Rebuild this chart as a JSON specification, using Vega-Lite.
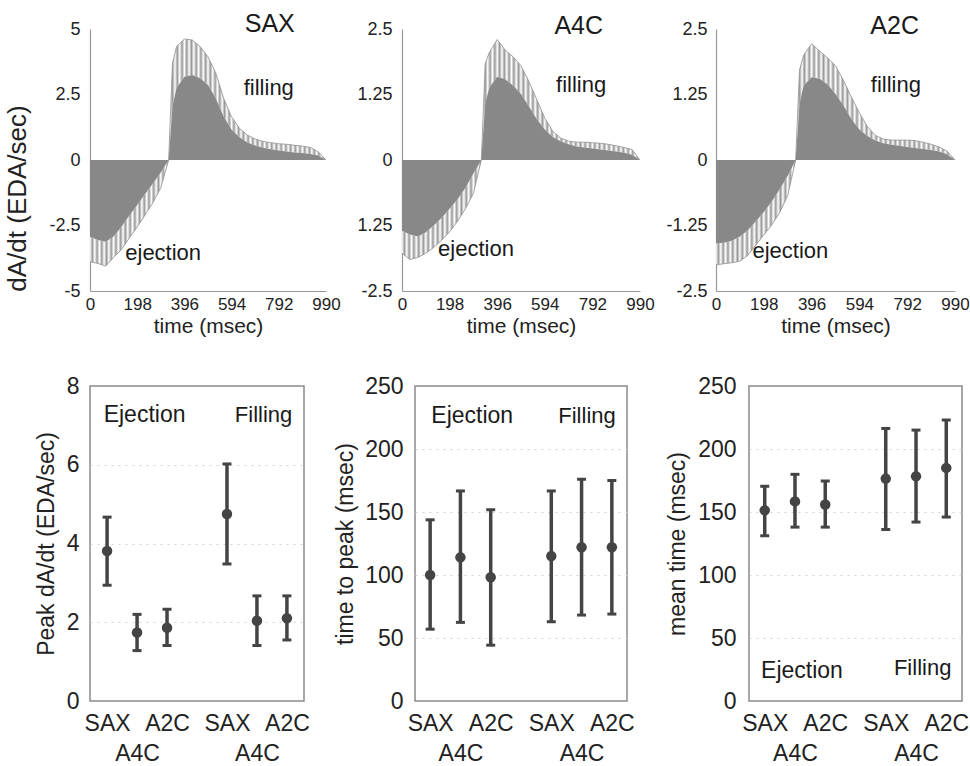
{
  "$schema": "https://vega.github.io/schema/vega-lite/v6.json",
  "padding": {"left": 4, "top": 12, "right": 0, "bottom": 0},
  "background": "white",
  "config": {
    "font": "Liberation Sans",
    "view": {"stroke": null},
    "axis": {"ticks": false, "grid": false, "domainColor": "#999", "domainWidth": 1.2, "labelColor": "#222", "titleColor": "#222", "titleFontWeight": "normal", "labelFlush": false, "labelOverlap": false, "labelBound": false}
  },
  "datasets": {
    "curves": [
      {"view":"SAX","t":0,"mean":-2.93,"outer":-3.88},
      {"view":"SAX","t":33,"mean":-3.05,"outer":-3.95},
      {"view":"SAX","t":66,"mean":-3.12,"outer":-4.05},
      {"view":"SAX","t":99,"mean":-2.92,"outer":-3.72},
      {"view":"SAX","t":132,"mean":-2.55,"outer":-3.42},
      {"view":"SAX","t":165,"mean":-2.12,"outer":-2.98},
      {"view":"SAX","t":198,"mean":-1.72,"outer":-2.56},
      {"view":"SAX","t":231,"mean":-1.3,"outer":-2.1},
      {"view":"SAX","t":264,"mean":-0.9,"outer":-1.63},
      {"view":"SAX","t":297,"mean":-0.48,"outer":-1.06},
      {"view":"SAX","t":330,"mean":0,"outer":0},
      {"view":"SAX","t":346,"mean":2.04,"outer":3.69},
      {"view":"SAX","t":363,"mean":2.75,"outer":4.33},
      {"view":"SAX","t":396,"mean":3.18,"outer":4.62},
      {"view":"SAX","t":429,"mean":3.24,"outer":4.58},
      {"view":"SAX","t":462,"mean":3.12,"outer":4.33},
      {"view":"SAX","t":495,"mean":2.86,"outer":3.94},
      {"view":"SAX","t":528,"mean":2.35,"outer":3.31},
      {"view":"SAX","t":561,"mean":1.65,"outer":2.35},
      {"view":"SAX","t":594,"mean":1.15,"outer":1.65},
      {"view":"SAX","t":627,"mean":0.87,"outer":1.21},
      {"view":"SAX","t":660,"mean":0.67,"outer":0.95},
      {"view":"SAX","t":693,"mean":0.55,"outer":0.8},
      {"view":"SAX","t":726,"mean":0.47,"outer":0.71},
      {"view":"SAX","t":759,"mean":0.41,"outer":0.66},
      {"view":"SAX","t":792,"mean":0.36,"outer":0.62},
      {"view":"SAX","t":825,"mean":0.32,"outer":0.6},
      {"view":"SAX","t":858,"mean":0.29,"outer":0.56},
      {"view":"SAX","t":891,"mean":0.27,"outer":0.53},
      {"view":"SAX","t":924,"mean":0.23,"outer":0.48},
      {"view":"SAX","t":957,"mean":0.17,"outer":0.32},
      {"view":"SAX","t":990,"mean":0,"outer":0},
      {"view":"A4C","t":0,"mean":-1.35,"outer":-1.78},
      {"view":"A4C","t":33,"mean":-1.42,"outer":-1.9},
      {"view":"A4C","t":66,"mean":-1.46,"outer":-1.86},
      {"view":"A4C","t":99,"mean":-1.38,"outer":-1.78},
      {"view":"A4C","t":132,"mean":-1.25,"outer":-1.67},
      {"view":"A4C","t":165,"mean":-1.1,"outer":-1.53},
      {"view":"A4C","t":198,"mean":-0.93,"outer":-1.37},
      {"view":"A4C","t":231,"mean":-0.75,"outer":-1.17},
      {"view":"A4C","t":264,"mean":-0.53,"outer":-0.93},
      {"view":"A4C","t":297,"mean":-0.26,"outer":-0.64},
      {"view":"A4C","t":330,"mean":0,"outer":0},
      {"view":"A4C","t":346,"mean":1.08,"outer":1.84},
      {"view":"A4C","t":363,"mean":1.38,"outer":2.05},
      {"view":"A4C","t":396,"mean":1.59,"outer":2.3},
      {"view":"A4C","t":429,"mean":1.54,"outer":2.1},
      {"view":"A4C","t":462,"mean":1.42,"outer":1.97},
      {"view":"A4C","t":495,"mean":1.26,"outer":1.8},
      {"view":"A4C","t":528,"mean":1.02,"outer":1.5},
      {"view":"A4C","t":561,"mean":0.78,"outer":1.15},
      {"view":"A4C","t":594,"mean":0.58,"outer":0.8},
      {"view":"A4C","t":627,"mean":0.44,"outer":0.55},
      {"view":"A4C","t":660,"mean":0.36,"outer":0.42},
      {"view":"A4C","t":693,"mean":0.3,"outer":0.36},
      {"view":"A4C","t":726,"mean":0.26,"outer":0.34},
      {"view":"A4C","t":759,"mean":0.24,"outer":0.34},
      {"view":"A4C","t":792,"mean":0.22,"outer":0.33},
      {"view":"A4C","t":825,"mean":0.2,"outer":0.32},
      {"view":"A4C","t":858,"mean":0.18,"outer":0.3},
      {"view":"A4C","t":891,"mean":0.16,"outer":0.27},
      {"view":"A4C","t":924,"mean":0.14,"outer":0.24},
      {"view":"A4C","t":957,"mean":0.1,"outer":0.2},
      {"view":"A4C","t":990,"mean":0,"outer":0},
      {"view":"A2C","t":0,"mean":-1.59,"outer":-2.0},
      {"view":"A2C","t":33,"mean":-1.58,"outer":-1.98},
      {"view":"A2C","t":66,"mean":-1.54,"outer":-1.96},
      {"view":"A2C","t":99,"mean":-1.46,"outer":-1.93},
      {"view":"A2C","t":132,"mean":-1.34,"outer":-1.82},
      {"view":"A2C","t":165,"mean":-1.17,"outer":-1.62},
      {"view":"A2C","t":198,"mean":-0.99,"outer":-1.43},
      {"view":"A2C","t":231,"mean":-0.79,"outer":-1.24},
      {"view":"A2C","t":264,"mean":-0.56,"outer":-1.0},
      {"view":"A2C","t":297,"mean":-0.3,"outer":-0.68},
      {"view":"A2C","t":330,"mean":0,"outer":0},
      {"view":"A2C","t":346,"mean":1.08,"outer":1.72},
      {"view":"A2C","t":363,"mean":1.42,"outer":2.0},
      {"view":"A2C","t":396,"mean":1.58,"outer":2.22},
      {"view":"A2C","t":429,"mean":1.55,"outer":2.08},
      {"view":"A2C","t":462,"mean":1.44,"outer":1.95},
      {"view":"A2C","t":495,"mean":1.26,"outer":1.8},
      {"view":"A2C","t":528,"mean":1.04,"outer":1.52},
      {"view":"A2C","t":561,"mean":0.78,"outer":1.2},
      {"view":"A2C","t":594,"mean":0.58,"outer":0.9},
      {"view":"A2C","t":627,"mean":0.46,"outer":0.64},
      {"view":"A2C","t":660,"mean":0.37,"outer":0.47},
      {"view":"A2C","t":693,"mean":0.32,"outer":0.4},
      {"view":"A2C","t":726,"mean":0.29,"outer":0.38},
      {"view":"A2C","t":759,"mean":0.27,"outer":0.38},
      {"view":"A2C","t":792,"mean":0.25,"outer":0.38},
      {"view":"A2C","t":825,"mean":0.23,"outer":0.37},
      {"view":"A2C","t":858,"mean":0.21,"outer":0.34},
      {"view":"A2C","t":891,"mean":0.19,"outer":0.3},
      {"view":"A2C","t":924,"mean":0.16,"outer":0.25},
      {"view":"A2C","t":957,"mean":0.11,"outer":0.17},
      {"view":"A2C","t":990,"mean":0,"outer":0}
    ],
    "stats": [
      {"panel":"peak","pos":1,"mean":3.81,"lo":2.94,"hi":4.67},
      {"panel":"peak","pos":2,"mean":1.74,"lo":1.28,"hi":2.2},
      {"panel":"peak","pos":3,"mean":1.86,"lo":1.41,"hi":2.33},
      {"panel":"peak","pos":5,"mean":4.75,"lo":3.48,"hi":6.02},
      {"panel":"peak","pos":6,"mean":2.04,"lo":1.41,"hi":2.67},
      {"panel":"peak","pos":7,"mean":2.1,"lo":1.55,"hi":2.67},
      {"panel":"ttp","pos":1,"mean":100,"lo":57,"hi":143.8},
      {"panel":"ttp","pos":2,"mean":114,"lo":62.4,"hi":166.7},
      {"panel":"ttp","pos":3,"mean":98.2,"lo":44.3,"hi":151.8},
      {"panel":"ttp","pos":5,"mean":115,"lo":62.9,"hi":166.7},
      {"panel":"ttp","pos":6,"mean":122,"lo":68.2,"hi":176},
      {"panel":"ttp","pos":7,"mean":122,"lo":69,"hi":175},
      {"panel":"mt","pos":1,"mean":151.3,"lo":131.1,"hi":170.4},
      {"panel":"mt","pos":2,"mean":158.4,"lo":138,"hi":179.9},
      {"panel":"mt","pos":3,"mean":156,"lo":138,"hi":174.6},
      {"panel":"mt","pos":5,"mean":176.5,"lo":136.1,"hi":216.3},
      {"panel":"mt","pos":6,"mean":178.3,"lo":142,"hi":215},
      {"panel":"mt","pos":7,"mean":185,"lo":146,"hi":223}
    ]
  },
  "spacing": 38,
  "vconcat": [
    {
      "spacing": 76,
      "bounds": "flush",
      "hconcat": [
        {
          "width": 236, "height": 262,
          "data": {"name": "curves"},
          "transform": [{"filter": "datum.view == 'SAX'"}],
          "encoding": {"x": {"field": "t", "type": "quantitative", "scale": {"domain": [0, 990], "nice": false, "zero": false}, "axis": {"values": [0,198,396,594,792,990], "title": "time (msec)", "labelFontSize": 17, "labelPadding": 5, "titleFontSize": 21, "titlePadding": 3}}},
          "layer": [
            {"mark": {"type": "area", "stroke": null, "fill": {"gradient": "linear", "x1": 0, "y1": 0, "x2": 1, "y2": 0, "stops": [{"offset":0,"color":"#fff"},{"offset":0.01,"color":"#999"},{"offset":0.02,"color":"#fff"},{"offset":0.03,"color":"#999"},{"offset":0.04,"color":"#fff"},{"offset":0.05,"color":"#999"},{"offset":0.06,"color":"#fff"},{"offset":0.07,"color":"#999"},{"offset":0.08,"color":"#fff"},{"offset":0.09,"color":"#999"},{"offset":0.1,"color":"#fff"},{"offset":0.11,"color":"#999"},{"offset":0.12,"color":"#fff"},{"offset":0.13,"color":"#999"},{"offset":0.14,"color":"#fff"},{"offset":0.15,"color":"#999"},{"offset":0.16,"color":"#fff"},{"offset":0.17,"color":"#999"},{"offset":0.18,"color":"#fff"},{"offset":0.19,"color":"#999"},{"offset":0.2,"color":"#fff"},{"offset":0.21,"color":"#999"},{"offset":0.22,"color":"#fff"},{"offset":0.23,"color":"#999"},{"offset":0.24,"color":"#fff"},{"offset":0.25,"color":"#999"},{"offset":0.26,"color":"#fff"},{"offset":0.27,"color":"#999"},{"offset":0.28,"color":"#fff"},{"offset":0.29,"color":"#999"},{"offset":0.3,"color":"#fff"},{"offset":0.31,"color":"#999"},{"offset":0.32,"color":"#fff"},{"offset":0.33,"color":"#999"},{"offset":0.34,"color":"#fff"},{"offset":0.35,"color":"#999"},{"offset":0.36,"color":"#fff"},{"offset":0.37,"color":"#999"},{"offset":0.38,"color":"#fff"},{"offset":0.39,"color":"#999"},{"offset":0.4,"color":"#fff"},{"offset":0.41,"color":"#999"},{"offset":0.42,"color":"#fff"},{"offset":0.43,"color":"#999"},{"offset":0.44,"color":"#fff"},{"offset":0.45,"color":"#999"},{"offset":0.46,"color":"#fff"},{"offset":0.47,"color":"#999"},{"offset":0.48,"color":"#fff"},{"offset":0.49,"color":"#999"},{"offset":0.5,"color":"#fff"},{"offset":0.51,"color":"#999"},{"offset":0.52,"color":"#fff"},{"offset":0.53,"color":"#999"},{"offset":0.54,"color":"#fff"},{"offset":0.55,"color":"#999"},{"offset":0.56,"color":"#fff"},{"offset":0.57,"color":"#999"},{"offset":0.58,"color":"#fff"},{"offset":0.59,"color":"#999"},{"offset":0.6,"color":"#fff"},{"offset":0.61,"color":"#999"},{"offset":0.62,"color":"#fff"},{"offset":0.63,"color":"#999"},{"offset":0.64,"color":"#fff"},{"offset":0.65,"color":"#999"},{"offset":0.66,"color":"#fff"},{"offset":0.67,"color":"#999"},{"offset":0.68,"color":"#fff"},{"offset":0.69,"color":"#999"},{"offset":0.7,"color":"#fff"},{"offset":0.71,"color":"#999"},{"offset":0.72,"color":"#fff"},{"offset":0.73,"color":"#999"},{"offset":0.74,"color":"#fff"},{"offset":0.75,"color":"#999"},{"offset":0.76,"color":"#fff"},{"offset":0.77,"color":"#999"},{"offset":0.78,"color":"#fff"},{"offset":0.79,"color":"#999"},{"offset":0.8,"color":"#fff"},{"offset":0.81,"color":"#999"},{"offset":0.82,"color":"#fff"},{"offset":0.83,"color":"#999"},{"offset":0.84,"color":"#fff"},{"offset":0.85,"color":"#999"},{"offset":0.86,"color":"#fff"},{"offset":0.87,"color":"#999"},{"offset":0.88,"color":"#fff"},{"offset":0.89,"color":"#999"},{"offset":0.9,"color":"#fff"},{"offset":0.91,"color":"#999"},{"offset":0.92,"color":"#fff"},{"offset":0.93,"color":"#999"},{"offset":0.94,"color":"#fff"},{"offset":0.95,"color":"#999"},{"offset":0.96,"color":"#fff"},{"offset":0.97,"color":"#999"},{"offset":0.98,"color":"#fff"},{"offset":0.99,"color":"#999"},{"offset":1,"color":"#fff"}]}},
             "encoding": {"y": {"field": "outer", "type": "quantitative", "scale": {"domain": [-5, 5], "nice": false}, "title": "dA/dt (EDA/sec)", "axis": {"values": [-5,-2.5,0,2.5,5], "labelExpr": "'' + datum.value", "labelFontSize": 18, "labelPadding": 10, "titleFontSize": 26, "titlePadding": 17, "titleX": -60, "titleY": 169}}, "y2": {"field": "mean"}}},
            {"mark": {"type": "area", "color": "#888"}, "encoding": {"y": {"field": "mean", "type": "quantitative", "title": "dA/dt (EDA/sec)"}}},
            {"mark": {"type": "line", "color": "#8f8f8f", "strokeWidth": 0.8}, "encoding": {"y": {"field": "outer", "type": "quantitative", "title": "dA/dt (EDA/sec)"}}},
            {"transform": [{"filter": "datum.t == 0"}], "mark": {"type": "text", "fontSize": 25, "color": "#1a1a1a"}, "encoding": {"x": {"datum": 754, "type": "quantitative"}, "y": {"datum": 5.19, "type": "quantitative"}, "text": {"value": "SAX"}}},
            {"transform": [{"filter": "datum.t == 0"}], "mark": {"type": "text", "fontSize": 22, "color": "#1a1a1a"}, "encoding": {"x": {"datum": 750, "type": "quantitative"}, "y": {"datum": 2.75, "type": "quantitative"}, "text": {"value": "filling"}}},
            {"transform": [{"filter": "datum.t == 0"}], "mark": {"type": "text", "fontSize": 22, "color": "#1a1a1a"}, "encoding": {"x": {"datum": 307, "type": "quantitative"}, "y": {"datum": -3.55, "type": "quantitative"}, "text": {"value": "ejection"}}}
          ]
        },
        {
          "width": 238, "height": 262,
          "data": {"name": "curves"},
          "transform": [{"filter": "datum.view == 'A4C'"}],
          "encoding": {"x": {"field": "t", "type": "quantitative", "scale": {"domain": [0, 990], "nice": false, "zero": false}, "axis": {"values": [0,198,396,594,792,990], "title": "time (msec)", "labelFontSize": 17, "labelPadding": 5, "titleFontSize": 21, "titlePadding": 3}}},
          "layer": [
            {"mark": {"type": "area", "stroke": null, "fill": {"gradient": "linear", "x1": 0, "y1": 0, "x2": 1, "y2": 0, "stops": [{"offset":0,"color":"#fff"},{"offset":0.01,"color":"#999"},{"offset":0.02,"color":"#fff"},{"offset":0.03,"color":"#999"},{"offset":0.04,"color":"#fff"},{"offset":0.05,"color":"#999"},{"offset":0.06,"color":"#fff"},{"offset":0.07,"color":"#999"},{"offset":0.08,"color":"#fff"},{"offset":0.09,"color":"#999"},{"offset":0.1,"color":"#fff"},{"offset":0.11,"color":"#999"},{"offset":0.12,"color":"#fff"},{"offset":0.13,"color":"#999"},{"offset":0.14,"color":"#fff"},{"offset":0.15,"color":"#999"},{"offset":0.16,"color":"#fff"},{"offset":0.17,"color":"#999"},{"offset":0.18,"color":"#fff"},{"offset":0.19,"color":"#999"},{"offset":0.2,"color":"#fff"},{"offset":0.21,"color":"#999"},{"offset":0.22,"color":"#fff"},{"offset":0.23,"color":"#999"},{"offset":0.24,"color":"#fff"},{"offset":0.25,"color":"#999"},{"offset":0.26,"color":"#fff"},{"offset":0.27,"color":"#999"},{"offset":0.28,"color":"#fff"},{"offset":0.29,"color":"#999"},{"offset":0.3,"color":"#fff"},{"offset":0.31,"color":"#999"},{"offset":0.32,"color":"#fff"},{"offset":0.33,"color":"#999"},{"offset":0.34,"color":"#fff"},{"offset":0.35,"color":"#999"},{"offset":0.36,"color":"#fff"},{"offset":0.37,"color":"#999"},{"offset":0.38,"color":"#fff"},{"offset":0.39,"color":"#999"},{"offset":0.4,"color":"#fff"},{"offset":0.41,"color":"#999"},{"offset":0.42,"color":"#fff"},{"offset":0.43,"color":"#999"},{"offset":0.44,"color":"#fff"},{"offset":0.45,"color":"#999"},{"offset":0.46,"color":"#fff"},{"offset":0.47,"color":"#999"},{"offset":0.48,"color":"#fff"},{"offset":0.49,"color":"#999"},{"offset":0.5,"color":"#fff"},{"offset":0.51,"color":"#999"},{"offset":0.52,"color":"#fff"},{"offset":0.53,"color":"#999"},{"offset":0.54,"color":"#fff"},{"offset":0.55,"color":"#999"},{"offset":0.56,"color":"#fff"},{"offset":0.57,"color":"#999"},{"offset":0.58,"color":"#fff"},{"offset":0.59,"color":"#999"},{"offset":0.6,"color":"#fff"},{"offset":0.61,"color":"#999"},{"offset":0.62,"color":"#fff"},{"offset":0.63,"color":"#999"},{"offset":0.64,"color":"#fff"},{"offset":0.65,"color":"#999"},{"offset":0.66,"color":"#fff"},{"offset":0.67,"color":"#999"},{"offset":0.68,"color":"#fff"},{"offset":0.69,"color":"#999"},{"offset":0.7,"color":"#fff"},{"offset":0.71,"color":"#999"},{"offset":0.72,"color":"#fff"},{"offset":0.73,"color":"#999"},{"offset":0.74,"color":"#fff"},{"offset":0.75,"color":"#999"},{"offset":0.76,"color":"#fff"},{"offset":0.77,"color":"#999"},{"offset":0.78,"color":"#fff"},{"offset":0.79,"color":"#999"},{"offset":0.8,"color":"#fff"},{"offset":0.81,"color":"#999"},{"offset":0.82,"color":"#fff"},{"offset":0.83,"color":"#999"},{"offset":0.84,"color":"#fff"},{"offset":0.85,"color":"#999"},{"offset":0.86,"color":"#fff"},{"offset":0.87,"color":"#999"},{"offset":0.88,"color":"#fff"},{"offset":0.89,"color":"#999"},{"offset":0.9,"color":"#fff"},{"offset":0.91,"color":"#999"},{"offset":0.92,"color":"#fff"},{"offset":0.93,"color":"#999"},{"offset":0.94,"color":"#fff"},{"offset":0.95,"color":"#999"},{"offset":0.96,"color":"#fff"},{"offset":0.97,"color":"#999"},{"offset":0.98,"color":"#fff"},{"offset":0.99,"color":"#999"},{"offset":1,"color":"#fff"}]}},
             "encoding": {"y": {"field": "outer", "type": "quantitative", "scale": {"domain": [-2.5, 2.5], "nice": false}, "title": null, "axis": {"values": [-2.5,-1.25,0,1.25,2.5], "labelExpr": "datum.value == -1.25 ? '1.25' : '' + datum.value", "labelFontSize": 18, "labelPadding": 10}}, "y2": {"field": "mean"}}},
            {"mark": {"type": "area", "color": "#888"}, "encoding": {"y": {"field": "mean", "type": "quantitative", "title": null}}},
            {"mark": {"type": "line", "color": "#8f8f8f", "strokeWidth": 0.8}, "encoding": {"y": {"field": "outer", "type": "quantitative", "title": null}}},
            {"transform": [{"filter": "datum.t == 0"}], "mark": {"type": "text", "fontSize": 25, "color": "#1a1a1a"}, "encoding": {"x": {"datum": 735, "type": "quantitative"}, "y": {"datum": 2.55, "type": "quantitative"}, "text": {"value": "A4C"}}},
            {"transform": [{"filter": "datum.t == 0"}], "mark": {"type": "text", "fontSize": 22, "color": "#1a1a1a"}, "encoding": {"x": {"datum": 745, "type": "quantitative"}, "y": {"datum": 1.43, "type": "quantitative"}, "text": {"value": "filling"}}},
            {"transform": [{"filter": "datum.t == 0"}], "mark": {"type": "text", "fontSize": 22, "color": "#1a1a1a"}, "encoding": {"x": {"datum": 308, "type": "quantitative"}, "y": {"datum": -1.7, "type": "quantitative"}, "text": {"value": "ejection"}}}
          ]
        },
        {
          "width": 239, "height": 262,
          "data": {"name": "curves"},
          "transform": [{"filter": "datum.view == 'A2C'"}],
          "encoding": {"x": {"field": "t", "type": "quantitative", "scale": {"domain": [0, 990], "nice": false, "zero": false}, "axis": {"values": [0,198,396,594,792,990], "title": "time (msec)", "labelFontSize": 17, "labelPadding": 5, "titleFontSize": 21, "titlePadding": 3}}},
          "layer": [
            {"mark": {"type": "area", "stroke": null, "fill": {"gradient": "linear", "x1": 0, "y1": 0, "x2": 1, "y2": 0, "stops": [{"offset":0,"color":"#fff"},{"offset":0.01,"color":"#999"},{"offset":0.02,"color":"#fff"},{"offset":0.03,"color":"#999"},{"offset":0.04,"color":"#fff"},{"offset":0.05,"color":"#999"},{"offset":0.06,"color":"#fff"},{"offset":0.07,"color":"#999"},{"offset":0.08,"color":"#fff"},{"offset":0.09,"color":"#999"},{"offset":0.1,"color":"#fff"},{"offset":0.11,"color":"#999"},{"offset":0.12,"color":"#fff"},{"offset":0.13,"color":"#999"},{"offset":0.14,"color":"#fff"},{"offset":0.15,"color":"#999"},{"offset":0.16,"color":"#fff"},{"offset":0.17,"color":"#999"},{"offset":0.18,"color":"#fff"},{"offset":0.19,"color":"#999"},{"offset":0.2,"color":"#fff"},{"offset":0.21,"color":"#999"},{"offset":0.22,"color":"#fff"},{"offset":0.23,"color":"#999"},{"offset":0.24,"color":"#fff"},{"offset":0.25,"color":"#999"},{"offset":0.26,"color":"#fff"},{"offset":0.27,"color":"#999"},{"offset":0.28,"color":"#fff"},{"offset":0.29,"color":"#999"},{"offset":0.3,"color":"#fff"},{"offset":0.31,"color":"#999"},{"offset":0.32,"color":"#fff"},{"offset":0.33,"color":"#999"},{"offset":0.34,"color":"#fff"},{"offset":0.35,"color":"#999"},{"offset":0.36,"color":"#fff"},{"offset":0.37,"color":"#999"},{"offset":0.38,"color":"#fff"},{"offset":0.39,"color":"#999"},{"offset":0.4,"color":"#fff"},{"offset":0.41,"color":"#999"},{"offset":0.42,"color":"#fff"},{"offset":0.43,"color":"#999"},{"offset":0.44,"color":"#fff"},{"offset":0.45,"color":"#999"},{"offset":0.46,"color":"#fff"},{"offset":0.47,"color":"#999"},{"offset":0.48,"color":"#fff"},{"offset":0.49,"color":"#999"},{"offset":0.5,"color":"#fff"},{"offset":0.51,"color":"#999"},{"offset":0.52,"color":"#fff"},{"offset":0.53,"color":"#999"},{"offset":0.54,"color":"#fff"},{"offset":0.55,"color":"#999"},{"offset":0.56,"color":"#fff"},{"offset":0.57,"color":"#999"},{"offset":0.58,"color":"#fff"},{"offset":0.59,"color":"#999"},{"offset":0.6,"color":"#fff"},{"offset":0.61,"color":"#999"},{"offset":0.62,"color":"#fff"},{"offset":0.63,"color":"#999"},{"offset":0.64,"color":"#fff"},{"offset":0.65,"color":"#999"},{"offset":0.66,"color":"#fff"},{"offset":0.67,"color":"#999"},{"offset":0.68,"color":"#fff"},{"offset":0.69,"color":"#999"},{"offset":0.7,"color":"#fff"},{"offset":0.71,"color":"#999"},{"offset":0.72,"color":"#fff"},{"offset":0.73,"color":"#999"},{"offset":0.74,"color":"#fff"},{"offset":0.75,"color":"#999"},{"offset":0.76,"color":"#fff"},{"offset":0.77,"color":"#999"},{"offset":0.78,"color":"#fff"},{"offset":0.79,"color":"#999"},{"offset":0.8,"color":"#fff"},{"offset":0.81,"color":"#999"},{"offset":0.82,"color":"#fff"},{"offset":0.83,"color":"#999"},{"offset":0.84,"color":"#fff"},{"offset":0.85,"color":"#999"},{"offset":0.86,"color":"#fff"},{"offset":0.87,"color":"#999"},{"offset":0.88,"color":"#fff"},{"offset":0.89,"color":"#999"},{"offset":0.9,"color":"#fff"},{"offset":0.91,"color":"#999"},{"offset":0.92,"color":"#fff"},{"offset":0.93,"color":"#999"},{"offset":0.94,"color":"#fff"},{"offset":0.95,"color":"#999"},{"offset":0.96,"color":"#fff"},{"offset":0.97,"color":"#999"},{"offset":0.98,"color":"#fff"},{"offset":0.99,"color":"#999"},{"offset":1,"color":"#fff"}]}},
             "encoding": {"y": {"field": "outer", "type": "quantitative", "scale": {"domain": [-2.5, 2.5], "nice": false}, "title": null, "axis": {"values": [-2.5,-1.25,0,1.25,2.5], "labelExpr": "'' + datum.value", "labelFontSize": 18, "labelPadding": 9}}, "y2": {"field": "mean"}}},
            {"mark": {"type": "area", "color": "#888"}, "encoding": {"y": {"field": "mean", "type": "quantitative", "title": null}}},
            {"mark": {"type": "line", "color": "#8f8f8f", "strokeWidth": 0.8}, "encoding": {"y": {"field": "outer", "type": "quantitative", "title": null}}},
            {"transform": [{"filter": "datum.t == 0"}], "mark": {"type": "text", "fontSize": 25, "color": "#1a1a1a"}, "encoding": {"x": {"datum": 740, "type": "quantitative"}, "y": {"datum": 2.55, "type": "quantitative"}, "text": {"value": "A2C"}}},
            {"transform": [{"filter": "datum.t == 0"}], "mark": {"type": "text", "fontSize": 22, "color": "#1a1a1a"}, "encoding": {"x": {"datum": 745, "type": "quantitative"}, "y": {"datum": 1.43, "type": "quantitative"}, "text": {"value": "filling"}}},
            {"transform": [{"filter": "datum.t == 0"}], "mark": {"type": "text", "fontSize": 22, "color": "#1a1a1a"}, "encoding": {"x": {"datum": 308, "type": "quantitative"}, "y": {"datum": -1.74, "type": "quantitative"}, "text": {"value": "ejection"}}}
          ]
        }
      ]
    },
    {
      "spacing": 111,
      "bounds": "flush",
      "hconcat": [
        {
          "width": 214, "height": 315,
          "view": {"stroke": "#8a8a8a", "strokeWidth": 1.5},
          "data": {"name": "stats"},
          "transform": [{"filter": "datum.panel == 'peak'"}],
          "encoding": {"x": {"field": "pos", "type": "quantitative", "scale": {"domain": [0.43, 7.57], "nice": false, "zero": false}, "axis": {"values": [1,2,3,5,6,7], "title": null, "domain": false, "labelFontSize": 23, "labelPadding": 11, "labelLineHeight": 30, "labelExpr": "datum.value == 1 || datum.value == 5 ? 'SAX' : (datum.value == 3 || datum.value == 7 ? 'A2C' : ['', 'A4C'])"}}},
          "layer": [
            {"mark": {"type": "rule", "color": "#444", "strokeWidth": 3.5}, "encoding": {"y": {"field": "lo", "type": "quantitative", "scale": {"domain": [0, 8], "nice": false}, "title": "Peak dA/dt (EDA/sec)", "axis": {"values": [0,2,4,6,8], "domain": false, "grid": true, "gridColor": "#d2d2d2", "gridDash": [2, 5], "gridOpacity": {"condition": {"test": "datum.value == 0 || datum.value == 8", "value": 0}, "value": 1}, "labelFontSize": 23, "labelPadding": 11, "titleFontSize": 23, "titlePadding": 8}}, "y2": {"field": "hi"}}},
            {"mark": {"type": "tick", "orient": "horizontal", "color": "#444", "thickness": 3, "size": 9, "opacity": 1}, "encoding": {"y": {"field": "hi", "type": "quantitative", "title": "Peak dA/dt (EDA/sec)"}}},
            {"mark": {"type": "tick", "orient": "horizontal", "color": "#444", "thickness": 3, "size": 9, "opacity": 1}, "encoding": {"y": {"field": "lo", "type": "quantitative", "title": "Peak dA/dt (EDA/sec)"}}},
            {"mark": {"type": "circle", "color": "#444", "size": 110, "opacity": 1}, "encoding": {"y": {"field": "mean", "type": "quantitative", "title": "Peak dA/dt (EDA/sec)"}}},
            {"transform": [{"filter": "datum.pos == 1"}], "mark": {"type": "text", "fontSize": 23, "color": "#1a1a1a"}, "encoding": {"x": {"datum": 2.25, "type": "quantitative"}, "y": {"datum": 7.26, "type": "quantitative"}, "text": {"value": "Ejection"}}},
            {"transform": [{"filter": "datum.pos == 1"}], "mark": {"type": "text", "fontSize": 22, "color": "#1a1a1a"}, "encoding": {"x": {"datum": 6.22, "type": "quantitative"}, "y": {"datum": 7.26, "type": "quantitative"}, "text": {"value": "Filling"}}}
          ]
        },
        {
          "spacing": 122,
          "bounds": "flush",
          "hconcat": [
            {
              "width": 212, "height": 315,
              "view": {"stroke": "#8a8a8a", "strokeWidth": 1.5},
              "data": {"name": "stats"},
              "transform": [{"filter": "datum.panel == 'ttp'"}],
              "encoding": {"x": {"field": "pos", "type": "quantitative", "scale": {"domain": [0.5, 7.5], "nice": false, "zero": false}, "axis": {"values": [1,2,3,5,6,7], "title": null, "domain": false, "labelFontSize": 23, "labelPadding": 11, "labelLineHeight": 30, "labelExpr": "datum.value == 1 || datum.value == 5 ? 'SAX' : (datum.value == 3 || datum.value == 7 ? 'A2C' : ['', 'A4C'])"}}},
              "layer": [
                {"mark": {"type": "rule", "color": "#444", "strokeWidth": 3.5}, "encoding": {"y": {"field": "lo", "type": "quantitative", "scale": {"domain": [0, 250], "nice": false}, "title": "time to peak (msec)", "axis": {"values": [0,50,100,150,200,250], "domain": false, "grid": true, "gridColor": "#d2d2d2", "gridDash": [2, 5], "gridOpacity": {"condition": {"test": "datum.value == 0 || datum.value == 250", "value": 0}, "value": 1}, "labelFontSize": 23, "labelPadding": 12, "titleFontSize": 23, "titlePadding": 7}}, "y2": {"field": "hi"}}},
                {"mark": {"type": "tick", "orient": "horizontal", "color": "#444", "thickness": 3, "size": 9, "opacity": 1}, "encoding": {"y": {"field": "hi", "type": "quantitative", "title": "time to peak (msec)"}}},
                {"mark": {"type": "tick", "orient": "horizontal", "color": "#444", "thickness": 3, "size": 9, "opacity": 1}, "encoding": {"y": {"field": "lo", "type": "quantitative", "title": "time to peak (msec)"}}},
                {"mark": {"type": "circle", "color": "#444", "size": 110, "opacity": 1}, "encoding": {"y": {"field": "mean", "type": "quantitative", "title": "time to peak (msec)"}}},
                {"transform": [{"filter": "datum.pos == 1"}], "mark": {"type": "text", "fontSize": 23, "color": "#1a1a1a"}, "encoding": {"x": {"datum": 2.39, "type": "quantitative"}, "y": {"datum": 226, "type": "quantitative"}, "text": {"value": "Ejection"}}},
                {"transform": [{"filter": "datum.pos == 1"}], "mark": {"type": "text", "fontSize": 22, "color": "#1a1a1a"}, "encoding": {"x": {"datum": 6.18, "type": "quantitative"}, "y": {"datum": 226, "type": "quantitative"}, "text": {"value": "Filling"}}}
              ]
            },
            {
              "width": 213, "height": 315,
              "view": {"stroke": "#8a8a8a", "strokeWidth": 1.5},
              "data": {"name": "stats"},
              "transform": [{"filter": "datum.panel == 'mt'"}],
              "encoding": {"x": {"field": "pos", "type": "quantitative", "scale": {"domain": [0.48, 7.52], "nice": false, "zero": false}, "axis": {"values": [1,2,3,5,6,7], "title": null, "domain": false, "labelFontSize": 23, "labelPadding": 11, "labelLineHeight": 30, "labelExpr": "datum.value == 1 || datum.value == 5 ? 'SAX' : (datum.value == 3 || datum.value == 7 ? 'A2C' : ['', 'A4C'])"}}},
              "layer": [
                {"mark": {"type": "rule", "color": "#444", "strokeWidth": 3.5}, "encoding": {"y": {"field": "lo", "type": "quantitative", "scale": {"domain": [0, 250], "nice": false}, "title": "mean time (msec)", "axis": {"values": [0,50,100,150,200,250], "domain": false, "grid": true, "gridColor": "#d2d2d2", "gridDash": [2, 5], "gridOpacity": {"condition": {"test": "datum.value == 0 || datum.value == 250", "value": 0}, "value": 1}, "labelFontSize": 23, "labelPadding": 13, "titleFontSize": 23, "titlePadding": 8}}, "y2": {"field": "hi"}}},
                {"mark": {"type": "tick", "orient": "horizontal", "color": "#444", "thickness": 3, "size": 9, "opacity": 1}, "encoding": {"y": {"field": "hi", "type": "quantitative", "title": "mean time (msec)"}}},
                {"mark": {"type": "tick", "orient": "horizontal", "color": "#444", "thickness": 3, "size": 9, "opacity": 1}, "encoding": {"y": {"field": "lo", "type": "quantitative", "title": "mean time (msec)"}}},
                {"mark": {"type": "circle", "color": "#444", "size": 110, "opacity": 1}, "encoding": {"y": {"field": "mean", "type": "quantitative", "title": "mean time (msec)"}}},
                {"transform": [{"filter": "datum.pos == 1"}], "mark": {"type": "text", "fontSize": 23, "color": "#1a1a1a"}, "encoding": {"x": {"datum": 2.23, "type": "quantitative"}, "y": {"datum": 23.8, "type": "quantitative"}, "text": {"value": "Ejection"}}},
                {"transform": [{"filter": "datum.pos == 1"}], "mark": {"type": "text", "fontSize": 22, "color": "#1a1a1a"}, "encoding": {"x": {"datum": 6.22, "type": "quantitative"}, "y": {"datum": 26, "type": "quantitative"}, "text": {"value": "Filling"}}}
              ]
            }
          ]
        }
      ]
    }
  ]
}
